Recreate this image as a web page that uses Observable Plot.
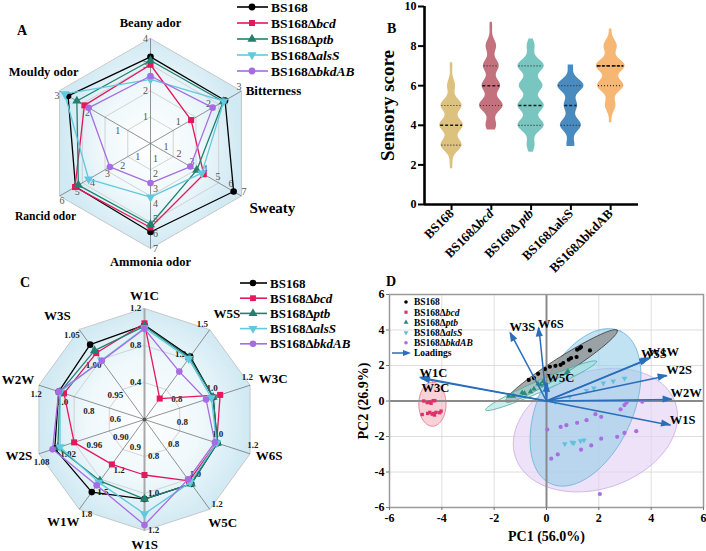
<!DOCTYPE html>
<html>
<head>
<meta charset="utf-8">
<script src="https://cdn.jsdelivr.net/npm/d3@7"></script>
<script src="https://cdn.jsdelivr.net/npm/@observablehq/plot@0.6"></script>
<style>
html,body{margin:0;padding:0;background:#fff;}
#wrap{position:relative;width:706px;height:551px;overflow:hidden;background:#fff;font-family:"Liberation Serif","Times New Roman",serif;color:#000;}
#wrap svg{position:absolute;overflow:visible;}
.letter{position:absolute;font:bold 14px "Liberation Serif",serif;line-height:1;}
</style>
</head>
<body>
<div id="wrap"></div>
<script>
// ================= shared =================
const strains = ["BS168", "BS168Δbcd", "BS168Δptb", "BS168ΔalsS", "BS168ΔbkdAB"];
const strainBase = ["BS168", "BS168Δ", "BS168Δ", "BS168Δ", "BS168Δ"];
const strainGene = ["", "bcd", "ptb", "alsS", "bkdAB"];

// ================= Panel A : sensory radar =================
const odorAxes = ["Beany ador", "Bitterness", "Sweaty", "Ammonia odor", "Rancid odor", "Mouldy odor"];
const odorMin = [0, 0, 0, 0, 0, 0];
const odorMax = [4, 3, 7, 7, 6, 3];
const odorTicks = [[1, 2, 3, 4], [1, 2, 3], [1, 2, 3, 4, 5, 6, 7], [1, 2, 3, 4, 5, 6, 7], [1, 2, 3, 4, 5, 6], [1, 2, 3]];
const odorBS168 = [3.3, 2.46, 6.4, 5.9, 4.95, 2.72];
const odorBcd = [3.0, 1.34, 4.1, 5.6, 4.98, 2.18];
const odorPtb = [3.16, 2.4, 3.56, 5.4, 4.76, 2.43];
const odorAlsS = [2.44, 2.42, 3.95, 3.58, 4.08, 2.83];
const odorBkdAB = [2.57, 2.05, 3.07, 2.64, 2.68, 2.04];

// ================= Panel B : violin =================
const bGroups = ["BS168", "BS168Δbcd", "BS168Δ ptb", "BS168ΔalsS", "BS168ΔbkdAB"];
const scoreLevels = [2, 3, 4, 5, 6, 7, 8, 9];
const scoreWeightBS168 = [1, 8, 9, 8, 3, 1, 0, 0];
const scoreWeightBcd = [0, 0, 4, 9, 7, 6, 4, 1];
const scoreWeightPtb = [0, 3, 10, 10, 9, 10, 3, 0];
const scoreWeightAlsS = [0, 3, 8, 5, 10, 2, 0, 0];
const scoreWeightBkdAB = [0, 0, 1, 4, 10, 11, 5, 1];
const scoreLow = [1.8, 3.76, 2.64, 2.93, 4.13];
const scoreHigh = [7.16, 9.21, 8.36, 7.04, 8.86];
const scoreMedian = [4, 6, 5, 5, 7];
const scoreQ1 = [3, 5, 4, 4, 6];
const scoreQ3 = [5, 7, 7, 6, 7];
const scoreTicks = [0, 2, 4, 6, 8, 10];

// ================= Panel C : e-nose radar =================
const sensorAxes = ["W1C", "W5S", "W3C", "W6S", "W5C", "W1S", "W1W", "W2S", "W2W", "W3S"];
const sensorMin = [0, 0.6, 0.6, 0.6, 0.6, 0.6, 0.6, 0.84, 0.4, 0.9];
const sensorMax = [1.2, 1.5, 1.2, 1.2, 1.2, 1.2, 1.8, 1.08, 1.2, 1.05];
const sensorTicks = [[0.4, 0.8, 1.2], [1.2, 1.5], [0.8, 1.0, 1.2], [0.8, 1.0, 1.2], [0.8, 1.0, 1.2], [0.8, 1.0, 1.2],
  [0.9, 1.2, 1.5, 1.8], [0.90, 0.96, 1.02, 1.08], [0.6, 0.8, 1.0, 1.2], [0.95, 1.00, 1.05]];
const sensorTickDecimals = [1, 1, 1, 1, 1, 1, 1, 2, 1, 2];
const sensorBS168 = [1.02, 1.23, 0.99, 1.014, 1.03, 1.03, 1.57, 1.044, 1.05, 1.025];
const sensorBcd = [1.04, 0.81, 1.03, 1.01, 1.01, 0.90, 1.20, 1.00, 1.01, 1.011];
const sensorPtb = [1.01, 1.22, 0.99, 1.014, 1.03, 1.03, 1.42, 1.037, 1.04, 1.015];
const sensorAlsS = [0.99, 1.21, 0.98, 1.01, 1.02, 1.11, 1.44, 1.032, 1.04, 0.999];
const sensorBkdAB = [0.98, 1.08, 0.95, 1.0, 1.0, 1.17, 1.48, 1.049, 1.05, 0.998];

// ================= Panel D : PCA biplot =================
const pcaBS168X = [-0.68, -0.48, -0.32, -0.06, 0.13, 0.34, 0.54, 0.64, 0.85, 0.94, 1.15, 1.17, 1.27, 1.32, 1.66];
const pcaBS168Y = [1.19, 1.29, 1.53, 1.80, 1.93, 1.98, 2.04, 2.14, 2.33, 2.42, 2.48, 2.89, 2.97, 3.04, 2.85];
const pcaBcdX = [-4.75, -4.69, -4.56, -4.46, -4.33, -4.27, -4.46, -4.37, -4.28, -4.22, -4.08, -4.03, -4.41, -4.31, -4.54];
const pcaBcdY = [-0.76, 0.0, -0.09, -0.06, 0.02, 0.02, -0.64, -0.74, -0.79, -0.64, -0.66, -0.57, -0.13, -0.70, -0.70];
const pcaPtbX = [-1.44, -1.27, -0.93, -0.84, -0.61, -0.48, -0.32, -0.23, -0.13, -0.08, 0.76, 0.82];
const pcaPtbY = [0.28, 0.28, 0.47, 0.43, 0.53, 0.68, 0.96, 0.91, 1.10, 0.96, 1.57, 1.66];
const pcaAlsSX = [0.89, 1.53, 1.81, 2.17, 2.55, 2.98, 0.34, 0.70, 0.98, 1.04, 1.30, 1.43];
const pcaAlsSY = [0.25, 0.59, 0.72, 1.00, 1.12, 1.27, -0.04, -2.42, -2.33, -2.36, -2.25, -2.21];
const pcaBkdABX = [0.03, 0.54, 0.76, 1.17, 1.53, 1.87, 2.09, 2.09, 2.83, 2.98, 3.06, 3.66, 2.70, 2.98, 3.43, 1.71, 1.32, 0.43, 0.18, 2.04];
const pcaBkdABY = [-1.61, -1.46, -1.36, -1.23, -1.08, -0.74, -0.89, -2.12, -0.47, -0.23, -0.09, -0.04, -2.02, -1.80, -1.70, -2.50, -2.74, -3.01, -3.25, -5.24];
// confidence ellipses: centre and the two semi-axis vectors (PC units)
const ellipseCX = [0.57, -4.36, -0.21, 1.49, 1.87];
const ellipseCY = [1.97, -0.18, 0.86, -0.36, -1.64];
const ellipseAX = [2.13, 0.0, 2.12, 1.34, 3.06];
const ellipseAY = [2.01, 1.24, 1.37, 4.29, 1.51];
const ellipseBX = [0.171, 0.52, 0.087, 1.64, 0.70];
const ellipseBY = [-0.399, 0.0, -0.295, -1.13, -3.14];
const loadingNames = ["W1C", "W3C", "W3S", "W6S", "W5C", "W5S", "W1W", "W2S", "W2W", "W1S"];
const loadingPC1 = [-4.82, -4.78, -1.38, -0.29, 0.03, 3.91, 3.97, 4.61, 4.80, 4.74];
const loadingPC2 = [1.32, 1.26, 3.84, 4.12, 1.0, 2.36, 2.42, 1.42, 0.09, -1.36];
const pcaTicks = [-6, -4, -2, 0, 2, 4, 6];

// ================= styles / layout =================
const FONT = "'Liberation Serif','Times New Roman',serif";
const lineColors = ["#000000", "#e2195b", "#22806f", "#62c8de", "#a76ce2"];
const markerSymbols = ["circle", "square", "triangle", "triangle", "circle"];
const markerRotate = [0, 0, 0, 180, 0];
const violinColors = ["#dcc17f", "#c2717d", "#78c6bf", "#4a8bbf", "#f6b674"];
const pcaColors = ["#000000", "#e0306a", "#2a8a7e", "#5fc2dc", "#a86ee0"];
const ellipseFill = ["#8c8c8c", "#f3b2c0", "#9fe0dc", "#98cfea", "#e4d2f4"];
const ellipseStroke = ["#333333", "#e0708a", "#4aa9a0", "#6ab0d6", "#c9a9e6"];
const ellipseOpacity = [0.75, 0.6, 0.55, 0.6, 0.65];
const ellipseOrder = [4, 3, 0, 2, 1];
const loadColor = "#2a6ebb";
const gradStops = [["0%", "#ffffff"], ["55%", "#eff8fb"], ["100%", "#d0e9f3"]];

const wrap = document.getElementById("wrap");
function place(el, left, top) { el.style.left = left + "px"; el.style.top = top + "px"; el.style.position = "absolute"; wrap.appendChild(el); return el; }

function gradientDefs(id) {
  const defs = d3.create("svg:defs");
  const g = defs.append("radialGradient").attr("id", id).attr("cx", "50%").attr("cy", "50%").attr("r", "50%");
  gradStops.forEach(([o, c]) => g.append("stop").attr("offset", o).attr("stop-color", c));
  return defs.node();
}

// ---------- generic radar ----------
function radarPlot(o) {
  const n = o.axes.length;
  const th = i => 2 * Math.PI * i / n;
  const P = (i, f) => ({x: f * Math.sin(th(i)), y: f * Math.cos(th(i))});
  const frac = (i, v) => (v - o.mins[i]) / (o.maxs[i] - o.mins[i]);
  const outer = d3.range(n).map(i => P(i, 1));
  const rings = o.rings.flatMap(r => d3.range(n).map(i => ({...P(i, r), r})));
  const spokes = d3.range(n).map(i => ({i, ...P(i, 1)}));
  const tickRows = o.ticks.flatMap((ts, i) => ts.map(t => {
    const p = P(i, frac(i, t));
    const phi = th(i) - Math.PI / 2;
    return {label: t.toFixed(o.decimals[i]), x: p.x + o.tickOffset / o.R * Math.sin(phi), y: p.y + o.tickOffset / o.R * Math.cos(phi)};
  }));
  const marks = [
    () => gradientDefs(o.gradId),
    Plot.line(outer, {x: "x", y: "y", curve: "linear-closed", fill: `url(#${o.gradId})`, stroke: "#c2c2c2", strokeWidth: 0.9}),
    Plot.line(rings, {x: "x", y: "y", z: "r", curve: "linear-closed", stroke: "#c9c9c9", strokeWidth: 0.8}),
    Plot.link(spokes.filter(d => !o.heavySpokes.includes(d.i)), {x1: () => 0, y1: () => 0, x2: "x", y2: "y", stroke: "#666", strokeWidth: 0.7}),
    Plot.link(spokes.filter(d => o.heavySpokes.includes(d.i)), {x1: () => 0, y1: () => 0, x2: "x", y2: "y", stroke: "#a8a8a8", strokeWidth: 2})
  ];
  if (o.centerDot) marks.push(Plot.dot([0], {x: () => 0, y: () => 0, r: 2, fill: "#555"}));
  marks.push(Plot.text(tickRows, {x: "x", y: "y", text: "label", fontSize: o.tickSize, fontWeight: o.tickWeight, fill: o.tickColor}));
  o.series.forEach((vals, s) => {
    const rows = vals.map((v, i) => P(i, frac(i, v)));
    marks.push(Plot.line(rows, {x: "x", y: "y", curve: "linear-closed", stroke: lineColors[s], strokeWidth: 1.3}));
    marks.push(Plot.dot(rows, {x: "x", y: "y", symbol: markerSymbols[s], rotate: markerRotate[s], r: markerSymbols[s] === "circle" ? 3.3 : 3.4, fill: lineColors[s], stroke: "none"}));
  });
  o.axes.forEach((name, i) => {
    const v = P(i, 1);
    marks.push(Plot.text([name], {x: () => v.x + o.nameDx[i] / o.R, y: () => v.y - o.nameDy[i] / o.R, text: d => d,
      fontSize: o.nameSize[i], fontWeight: "bold", fill: "#000"}));
  });
  return Plot.plot({
    width: o.width, height: o.height, margin: 0,
    x: {domain: [-o.cx / o.R, (o.width - o.cx) / o.R], axis: null},
    y: {domain: [-(o.height - o.cy) / o.R, o.cy / o.R], axis: null},
    style: {fontFamily: FONT, background: "transparent", overflow: "visible"},
    marks
  });
}

// ---------- legend (line + marker) ----------
function lineLegend(opts) {
  const svg = d3.create("svg").attr("width", opts.width).attr("height", opts.height)
    .style("font-family", FONT).style("overflow", "visible");
  strains.forEach((s, i) => {
    const y = opts.y0 + i * opts.dy;
    const g = svg.append("g");
    if (opts.line) g.append("line").attr("x1", opts.lx1).attr("x2", opts.lx2).attr("y1", y).attr("y2", y).attr("stroke", opts.colors[i]).attr("stroke-width", 1.6);
    const sym = markerSymbols[i] === "square" ? d3.symbolSquare : markerSymbols[i] === "triangle" ? d3.symbolTriangle : d3.symbolCircle;
    g.append("path").attr("d", d3.symbol(sym, Math.PI * opts.mr * opts.mr)())
      .attr("transform", `translate(${opts.mx},${y}) rotate(${markerRotate[i]})`).attr("fill", opts.colors[i]);
    const t = g.append("text").attr("x", opts.tx).attr("y", y).attr("dy", "0.35em")
      .attr("font-size", opts.fs).attr("font-weight", "bold");
    t.append("tspan").text(strainBase[i]);
    if (strainGene[i]) t.append("tspan").attr("font-style", "italic").text(strainGene[i]);
  });
  if (opts.loadings) {
    const y = opts.y0 + strains.length * opts.dy;
    svg.append("line").attr("x1", opts.lx1).attr("x2", opts.lx2 - 6).attr("y1", y).attr("y2", y).attr("stroke", loadColor).attr("stroke-width", 1.5);
    svg.append("path").attr("d", `M${opts.lx2},${y}L${opts.lx2 - 8},${y - 3}L${opts.lx2 - 8},${y + 3}Z`).attr("fill", loadColor);
    svg.append("text").attr("x", opts.tx).attr("y", y).attr("dy", "0.35em").attr("font-size", opts.fs).attr("font-weight", "bold").text("Loadings");
  }
  return svg.node();
}

// ================= build A =================
const plotA = radarPlot({
  width: 353, height: 270, cx: 150, cy: 143, R: 105,
  axes: odorAxes, mins: odorMin, maxs: odorMax, ticks: odorTicks, decimals: odorAxes.map(() => 0),
  series: [odorBS168, odorBcd, odorPtb, odorAlsS, odorBkdAB],
  rings: [0.25, 0.5, 0.75], gradId: "gradA", heavySpokes: [],
  tickOffset: 5, tickSize: 10, tickWeight: "normal", tickColor: "#555",
  nameDx: [0, 32, 31, 0, -14, -16], nameDy: [-16, 0, 12, 13, 20, -19],
  nameSize: [12.5, 13, 15, 12.5, 11.5, 12.5]
});
place(plotA, 0, 0);

// ================= build B =================
const bw = 0.32, violinScale = 1.3 / 39.78;
const scoreWeights = [scoreWeightBS168, scoreWeightBcd, scoreWeightPtb, scoreWeightAlsS, scoreWeightBkdAB];
const density = (g, y) => d3.sum(scoreLevels, (s, k) => scoreWeights[g][k] * Math.exp(-0.5 * ((y - s) / bw) ** 2));
const bMarks = [];
bGroups.forEach((name, g) => {
  const ys = d3.range(scoreLow[g], scoreHigh[g], 0.02).concat([scoreHigh[g]]);
  const rows = ys.map(y => { const hw = density(g, y) * violinScale; return {y, x1: g + 1 - hw, x2: g + 1 + hw}; });
  bMarks.push(Plot.areaX(rows, {y: "y", x1: "x1", x2: "x2", fill: violinColors[g], curve: "basis"}));
  const qLine = (v, dash, color, w) => {
    const hw = density(g, v) * violinScale * 0.92;
    return Plot.ruleY([v], {y: d => d, x1: () => g + 1 - hw, x2: () => g + 1 + hw, stroke: color, strokeWidth: w, strokeDasharray: dash});
  };
  bMarks.push(qLine(scoreQ1[g], "1,2", "#333", 1.2));
  bMarks.push(qLine(scoreQ3[g], "1,2", "#333", 1.2));
  bMarks.push(qLine(scoreMedian[g], "3,2", "#1a1a1a", 1.6));
});
const bXmin = 0.32, bXmax = 5.70;
const plotB = Plot.plot({
  width: 353, height: 270, marginLeft: 71, marginRight: 68, marginTop: 6, marginBottom: 66,
  x: {domain: [bXmin, bXmax]}, y: {domain: [0, 10]},
  style: {fontFamily: FONT, background: "transparent", overflow: "visible"},
  marks: [
    ...bMarks,
    Plot.ruleX([bXmin], {y1: () => 0, y2: () => 10, stroke: "#000", strokeWidth: 2.6}),
    Plot.ruleY([0], {x1: () => bXmin, x2: () => bXmax, stroke: "#000", strokeWidth: 2.6}),
    Plot.axisY({ticks: scoreTicks, tickSize: 6, tickPadding: 2, strokeWidth: 2, fontSize: 12, fontWeight: "bold", label: null, tickFormat: d => String(d)}),
    Plot.axisX({ticks: [1, 2, 3, 4, 5], tickSize: 6, tickPadding: 1, strokeWidth: 2, tickRotate: -45, fontSize: 13, fontWeight: "bold", label: null, tickFormat: i => bGroups[i - 1]}),
    Plot.text(["Sensory score"], {frameAnchor: "left", rotate: -90, textAnchor: "middle", dx: -37, fontSize: 19, fontWeight: "bold", text: d => d})
  ]
});
const bItalic = {"BS168Δbcd": ["BS168Δ", "bcd"], "BS168Δ ptb": ["BS168Δ ", "ptb"]};
plotB.querySelectorAll("text").forEach(t => {
  if (t.querySelector("tspan")) return;
  const parts = bItalic[t.textContent];
  if (!parts) return;
  t.textContent = "";
  const ns = "http://www.w3.org/2000/svg";
  const a = document.createElementNS(ns, "tspan"); a.textContent = parts[0]; t.appendChild(a);
  const b = document.createElementNS(ns, "tspan"); b.textContent = parts[1]; b.setAttribute("font-style", "italic"); t.appendChild(b);
});
place(plotB, 353, 0);

// ================= build C =================
const plotC = radarPlot({
  width: 353, height: 281, cx: 144, cy: 149, R: 111,
  axes: sensorAxes, mins: sensorMin, maxs: sensorMax, ticks: sensorTicks, decimals: sensorTickDecimals,
  series: [sensorBS168, sensorBcd, sensorPtb, sensorAlsS, sensorBkdAB],
  rings: [1 / 3, 2 / 3], gradId: "gradC", heavySpokes: [0, 5], centerDot: true,
  tickOffset: 9, tickSize: 9, tickWeight: "bold", tickColor: "#222",
  nameDx: [0, 17, 23, 19, 13, 0, -16, -20, -21, -22], nameDy: [-13, -16, -6, 2, 14, 14, 13, 2, -5, -14],
  nameSize: sensorAxes.map(() => 13)
});
place(plotC, 0, 270);

// ================= build D =================
const pcaX = [pcaBS168X, pcaBcdX, pcaPtbX, pcaAlsSX, pcaBkdABX];
const pcaY = [pcaBS168Y, pcaBcdY, pcaPtbY, pcaAlsSY, pcaBkdABY];
const ellipseMarks = ellipseOrder.map(k => {
  const pts = d3.range(0, 97).map(j => {
    const t = j / 96 * 2 * Math.PI;
    return {x: ellipseCX[k] + ellipseAX[k] * Math.cos(t) + ellipseBX[k] * Math.sin(t),
            y: ellipseCY[k] + ellipseAY[k] * Math.cos(t) + ellipseBY[k] * Math.sin(t)};
  });
  return Plot.line(pts, {x: "x", y: "y", curve: "linear-closed", fill: ellipseFill[k], fillOpacity: ellipseOpacity[k], stroke: ellipseStroke[k], strokeWidth: 0.8});
});
const pointMarks = strains.map((s, k) => Plot.dot(pcaX[k].map((x, j) => ({x, y: pcaY[k][j]})), {
  x: "x", y: "y", symbol: markerSymbols[k], rotate: markerRotate[k], r: k === 1 ? 1.9 : 2.1, fill: pcaColors[k], stroke: "none"}));
const loadRows = loadingNames.map((name, k) => ({name, x: loadingPC1[k], y: loadingPC2[k]}));
const loadLabelDx = [13, 14, 12, 12, 13, 5, 13, 12, 14, 12];
const loadLabelDy = [-5, 9, -6, -4, -5, -5, -6, -6, -6, -5];
function arrowHeads(index, scales) {
  const g = d3.create("svg:g").attr("fill", loadColor);
  loadRows.forEach(d => {
    const x0 = scales.x(0), y0 = scales.y(0), x1 = scales.x(d.x), y1 = scales.y(d.y);
    const a = Math.atan2(y1 - y0, x1 - x0) * 180 / Math.PI;
    g.append("path").attr("d", "M1,0L-9,-3.6L-9,3.6Z").attr("transform", `translate(${x1},${y1}) rotate(${a})`);
  });
  return g.node();
}
const plotD = Plot.plot({
  width: 353, height: 281, marginLeft: 36, marginRight: 3, marginTop: 24, marginBottom: 44,
  x: {domain: [-6, 6]}, y: {domain: [-6, 6]},
  style: {fontFamily: FONT, background: "transparent", overflow: "visible"},
  marks: [
    Plot.gridX({ticks: pcaTicks, stroke: "#d6d6d6", strokeOpacity: 1, strokeWidth: 0.8}),
    Plot.gridY({ticks: pcaTicks, stroke: "#d6d6d6", strokeOpacity: 1, strokeWidth: 0.8}),
    ...ellipseMarks,
    Plot.ruleX([0], {stroke: "#8a8a8a", strokeWidth: 2}),
    Plot.ruleY([0], {stroke: "#8a8a8a", strokeWidth: 2}),
    Plot.frame({stroke: "#9a9a9a", strokeWidth: 1.5}),
    ...pointMarks,
    Plot.link(loadRows, {x1: () => 0, y1: () => 0, x2: "x", y2: "y", stroke: loadColor, strokeWidth: 1.5}),
    arrowHeads,
    ...loadRows.map((d, k) => Plot.text([d], {x: "x", y: "y", text: "name", dx: loadLabelDx[k], dy: loadLabelDy[k], fontSize: 12.5, fontWeight: "bold", fill: "#000"})),
    Plot.axisX({ticks: pcaTicks, tickSize: 3, tickPadding: 3, fontSize: 12, fontWeight: "bold", label: null, tickFormat: d => String(d), stroke: "#777"}),
    Plot.axisY({ticks: pcaTicks, tickSize: 3, tickPadding: 2, fontSize: 12, fontWeight: "bold", label: null, tickFormat: d => String(d), stroke: "#777"}),
    Plot.text(["PC1 (56.0%)"], {frameAnchor: "bottom", textAnchor: "middle", dy: 33, fontSize: 14, fontWeight: "bold", text: d => d}),
    Plot.text(["PC2 (26.9%)"], {frameAnchor: "left", rotate: -90, textAnchor: "middle", dx: -26, fontSize: 14, fontWeight: "bold", text: d => d})
  ]
});
place(plotD, 353, 270);

// ================= legends =================
place(lineLegend({width: 125, height: 85, y0: 7, dy: 16, lx1: 1, lx2: 32, mx: 16, tx: 35, mr: 3.4, fs: 13.5, line: true, colors: lineColors}), 236, 0);
place(lineLegend({width: 125, height: 82, y0: 8, dy: 15.2, lx1: 1, lx2: 28, mx: 14, tx: 31, mr: 3.3, fs: 13, line: true, colors: lineColors}), 239, 275);
place(lineLegend({width: 90, height: 70, y0: 7, dy: 10.2, lx1: 2, lx2: 21, mx: 16, tx: 24, mr: 1.8, fs: 9.5, line: false, loadings: true, colors: pcaColors}), 390, 295);

// ================= panel letters =================
[["A", 17, 24], ["B", 387, 22], ["C", 20, 276], ["D", 386, 275]].forEach(([t, x, y]) => {
  const d = document.createElement("div"); d.className = "letter"; d.textContent = t; place(d, x, y);
});
</script>
</body>
</html>
